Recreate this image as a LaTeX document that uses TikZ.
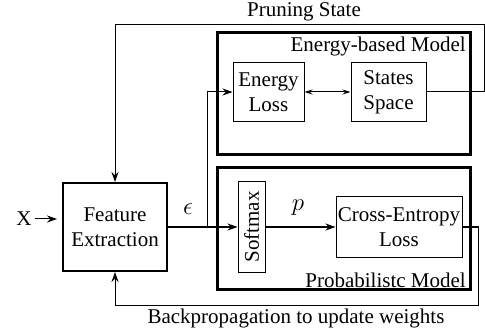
\documentclass[tikz,border=0pt]{standalone}
\usepackage{fontspec}
\setmainfont{Liberation Serif}
\usepackage{graphicx}
\usetikzlibrary{positioning,arrows.meta}

\begin{document}
\begin{tikzpicture}[x=1pt,y=-1pt,
  font=\fontsize{21}{25}\selectfont,
  box/.style={draw,line width=1pt,inner sep=0pt,align=center},
  model/.style={draw,line width=3pt,inner sep=0pt,minimum width=253,minimum height=122},
  sym/.style={font=\fontsize{27}{30}\selectfont},
  tip/.style={-{Stealth[length=10pt,width=7pt]},line width=1pt}]
\useasboundingbox (0,0) rectangle (485,334);
% the two models
\node[model](ebm) at (343.5,94){};
\node[model](pm) at (343.5,228.5){};
\node[anchor=north east,inner sep=0pt] (ebml) at (466,37){Energy-based Model};
\node[anchor=south east,inner sep=0pt] (pml) at (466,288){Probabilistc Model};
% blocks
\node[box,line width=2pt,minimum width=104,minimum height=88](fe) at (115,227){Feature\\Extraction};
\node[box,minimum width=71,minimum height=59](el) at (268.5,92){Energy\\Loss};
\node[box,minimum width=75,minimum height=59](ss) at (388.5,92){States\\Space};
\node[box,minimum width=27,minimum height=91](sm) at (251.5,227){\rotatebox{90}{Softmax}};
\node[box,minimum width=126,minimum height=60](ce) at (399,227){Cross-Entropy\\Loss};
\node(x) at (24,219){X};
\node[sym](eps) at (188,209){$\epsilon$};
\node[sym](p) at (298,208){$p$};
\node[inner sep=0pt](ps) at (304,12){Pruning State};
\node(bp) at (296,318){Backpropagation to update weights};
\coordinate(br) at (207,227);
\coordinate(tr) at (484,25);
\coordinate(lr) at (478,305);
% connectors
\draw[tip,shorten >=5pt] (x) -- (fe.west |- x);
\draw[tip] (fe) -- (sm);
\draw[tip] (br) |- (el);
\draw[tip,{Stealth[length=8pt,width=5pt]}-{Stealth[length=8pt,width=5pt]}] (el) -- (ss);
\draw[tip] (sm) -- (ce);
\draw[tip] (ss) -| (tr) -| (fe.north);
\draw[tip] (ce) -| (lr) -| (fe.south);
\end{tikzpicture}
\end{document}
